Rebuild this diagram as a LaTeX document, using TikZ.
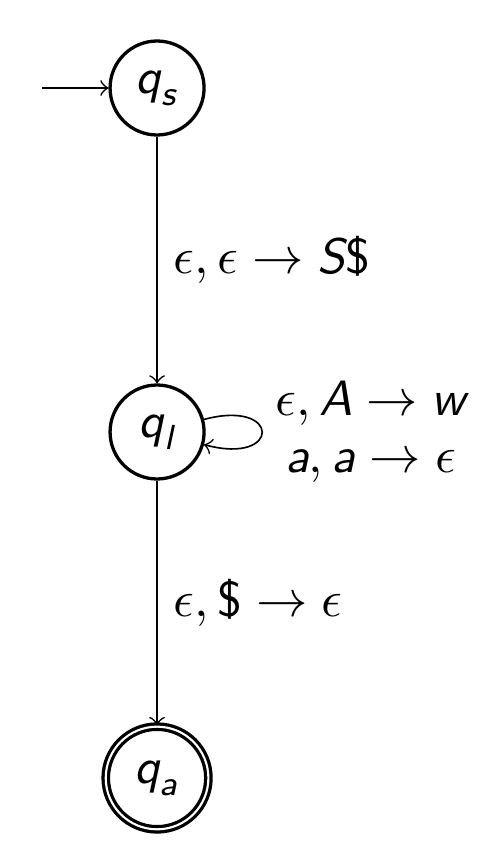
\documentclass[tikz,border=0pt]{standalone}
\usepackage{amsmath,amssymb}
\usepackage{tikz}
\newcommand{\pv}[1]{\text{\sffamily\itshape #1}}
\newcommand{\pdol}{\text{\sffamily\$}}

\begin{document}
\begin{tikzpicture}[>=to,font=\fontsize{10.6}{12.2}\selectfont,
  pstate/.style={circle,draw,line width=0.7pt,minimum size=0.705cm,inner sep=0pt},
  pfinal/.style={pstate,double,double distance=0.45pt,minimum size=0.77cm},
  trans/.style={->,line width=0.35pt}]
  \useasboundingbox (0,0) rectangle (3.69,6.315);
  \node[pstate] (qs) at (1.178,5.655) {$\pv{q}_{\pv{s}}$};
  \node[pstate] (ql) at (1.178,3.075) {$\pv{q}_{\pv{l}}$};
  \node[pfinal] (qa) at (1.178,0.48) {$\pv{q}_{\pv{a}}$};
  \coordinate (start) at (0.315,5.655);
  \draw[trans] (start) -- (qs);
  \draw[trans] (qs) -- node[right] {$\epsilon, \epsilon \rightarrow \pv{S}\pdol$} (ql);
  \draw[trans] (ql) -- node[right] {$\epsilon, \pdol \rightarrow \epsilon$} (qa);
  \draw[trans] (ql) to[out=15,in=-15,min distance=6mm] (ql);
  \node[align=center] (looplbl) at (2.78,3.075) {$\epsilon, \pv{A} \rightarrow \pv{w}$\\$\pv{a}, \pv{a} \rightarrow \epsilon$};
\end{tikzpicture}
\end{document}
